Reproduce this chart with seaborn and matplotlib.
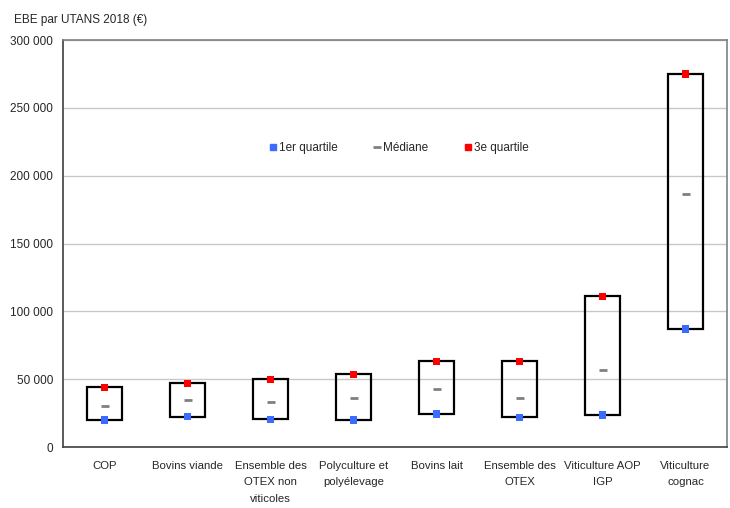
import matplotlib
matplotlib.use("Agg")
import matplotlib.pyplot as plt
import seaborn as sns
import pandas as pd
from matplotlib.lines import Line2D
from matplotlib.ticker import FuncFormatter, MultipleLocator

categories = ["COP", "Bovins viande", "Ensemble des\nOTEX non\nviticoles",
              "Polyculture et\npolyélevage", "Bovins lait", "Ensemble des\nOTEX",
              "Viticulture AOP\nIGP", "Viticulture\ncognac"]
q1 = [20000, 22500, 20500, 20000, 24300, 22000, 23600, 87000]
median = [30500, 35000, 33000, 36500, 42700, 36000, 56500, 186500]
q3 = [44000, 47000, 50000, 53500, 63300, 63300, 111000, 275000]

sns.set_style("white")
plt.rcParams["font.family"] = ["Liberation Sans", "DejaVu Sans"]
fs = 8.5

df = pd.DataFrame({"cat": categories, "q1": q1, "med": median, "q3": q3})
df["height"] = df["q3"] - df["q1"]

fig = plt.figure(figsize=(7.3, 5.08), dpi=100)
ax = fig.add_axes([0.0863, 0.12, 0.9097, 0.801])

# boxes from Q1 to Q3
sns.barplot(data=df, x="cat", y="height", bottom=df["q1"].tolist(), width=0.42,
            color="black", fill=False, edgecolor="black", linewidth=1.6,
            errorbar=None, ax=ax)

blue, red, grey = "#3a6cff", "#ff0000", "#808080"
sns.scatterplot(data=df, x="cat", y="q1", marker="s", s=28, color=blue,
                edgecolor="none", ax=ax, zorder=5)
sns.scatterplot(data=df, x="cat", y="med", marker="_", s=30, color=grey,
                linewidth=2, ax=ax, zorder=5)
sns.scatterplot(data=df, x="cat", y="q3", marker="s", s=28, color=red,
                edgecolor="none", ax=ax, zorder=5)

ax.set_ylim(0, 300000)
ax.set_xlim(-0.5, len(categories) - 0.5)
ax.yaxis.set_major_locator(MultipleLocator(50000))
ax.yaxis.set_major_formatter(FuncFormatter(lambda v, p: f"{int(v):,}".replace(",", " ")))
ax.grid(axis="y", color="#c8c8c8", linewidth=1)
ax.set_axisbelow(True)
ax.set_xlabel("")
ax.set_ylabel("")

ax.set_xticks(range(len(categories)))
ax.set_xticklabels(categories, fontsize=8.2, linespacing=1.8)
ax.set_xticks([i - 0.5 for i in range(len(categories) + 1)], minor=True)
ax.tick_params(axis="x", which="major", length=0, pad=10)
ax.tick_params(axis="x", which="minor", length=5, width=1, color="#404040", direction="out")
ax.tick_params(axis="y", length=5, width=1, color="#404040", direction="out", labelsize=fs, pad=2)

for side in ["left", "bottom"]:
    ax.spines[side].set_color("#404040")
    ax.spines[side].set_linewidth(1.2)
for side in ["top", "right"]:
    ax.spines[side].set_color("#808080")
    ax.spines[side].set_linewidth(1.2)

fig.text(0.019, 0.961, "EBE par UTANS 2018 (€)", fontsize=fs, ha="left", va="center")

handles = [
    Line2D([0], [0], marker="s", linestyle="none", color=blue, markersize=5),
    Line2D([0], [0], marker="_", linestyle="none", color=grey, markersize=6, markeredgewidth=2),
    Line2D([0], [0], marker="s", linestyle="none", color=red, markersize=5),
]
ax.legend(handles, ["1er quartile", "Médiane", "3e quartile"], ncol=3, frameon=False,
          loc="center", bbox_to_anchor=(0.506, 0.735), fontsize=fs,
          handlelength=0.6, handletextpad=0.25, columnspacing=3.0)

fig.savefig("out.png", dpi=100)
